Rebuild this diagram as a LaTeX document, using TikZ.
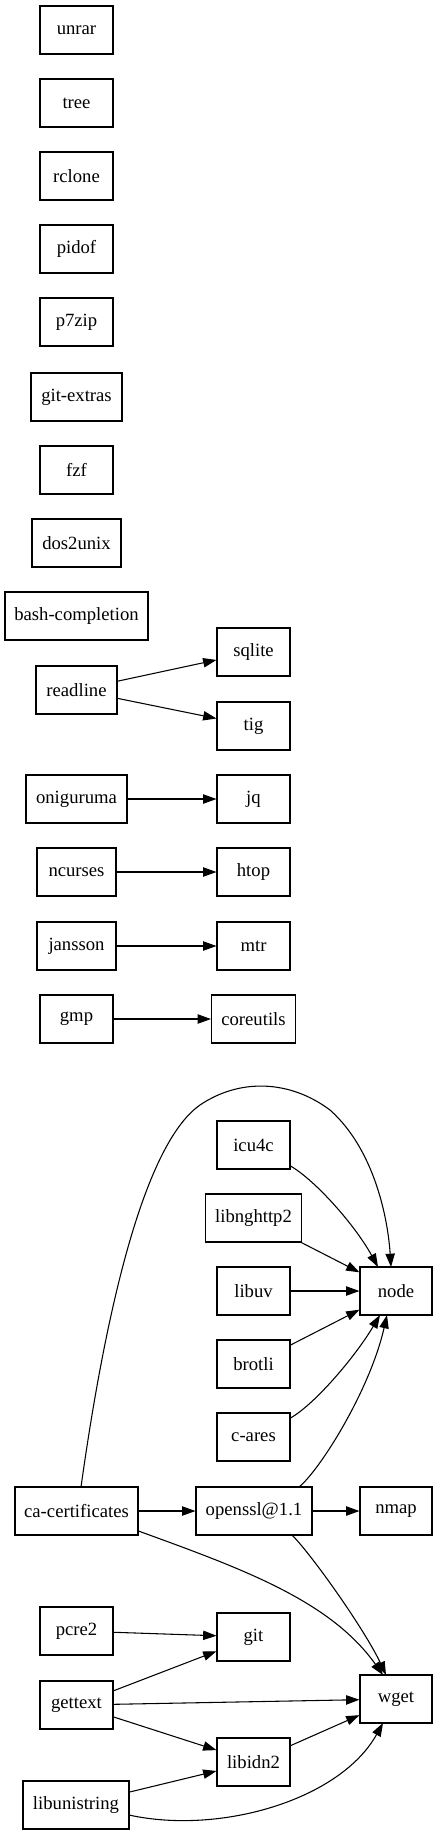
\documentclass[tikz,border=0pt]{standalone}
\usepackage{fontspec}
\setmainfont{Liberation Serif}
\usetikzlibrary{arrows.meta,calc}
\begin{document}
\begin{tikzpicture}[x=0.75pt,y=-0.75pt,
  box/.style={draw=black,line width=0.8pt,rectangle,minimum height=36pt,inner sep=0pt,font=\fontsize{14pt}{16pt}\selectfont},
  w/.style={minimum width=#1*0.75pt},
  edge/.style={draw=black,line width=0.8pt,-{Triangle[length=10pt,width=7pt]}}]
\useasboundingbox (0,0) rectangle (437,1835);
\node[box,w=73] (unrar) at (76.5,30) {unrar};
\node[box,w=73] (tree) at (76.5,103) {tree};
\node[box,w=73] (rclone) at (76.5,176) {rclone};
\node[box,w=73] (pidof) at (76.5,249) {pidof};
\node[box,w=73] (p7zip) at (76.5,322) {p7zip};
\node[box,w=91] (gitextras) at (76.5,397) {git-extras};
\node[box,w=73] (fzf) at (76.5,470) {fzf};
\node[box,w=89] (dos2unix) at (76.5,543) {dos2unix};
\node[box,w=143] (bashcompletion) at (76.5,616) {bash-completion};
\node[box,w=81] (readline) at (76.5,690) {readline};
\node[box,w=73] (sqlite) at (253.5,652) {sqlite};
\node[box,w=73] (tig) at (253.5,726) {tig};
\node[box,w=101] (oniguruma) at (76.5,799) {oniguruma};
\node[box,w=73] (jq) at (253.5,799) {jq};
\node[box,w=79] (ncurses) at (76.5,872) {ncurses};
\node[box,w=73] (htop) at (253.5,872) {htop};
\node[box,w=79] (jansson) at (76.5,946) {jansson};
\node[box,w=73] (mtr) at (253.5,946) {mtr};
\node[box,w=73] (gmp) at (76.5,1019) {gmp};
\node[box,w=84] (coreutils) at (253.5,1019) {coreutils};
\node[box,w=73] (icu4c) at (253.5,1145) {icu4c};
\node[box,w=96] (libnghttp2) at (253.5,1218) {libnghttp2};
\node[box,w=73] (libuv) at (253.5,1291) {libuv};
\node[box,w=72] (node) at (396,1291) {node};
\node[box,w=73] (brotli) at (253.5,1364) {brotli};
\node[box,w=73] (cares) at (253.5,1437) {c-ares};
\node[box,w=123] (cacert) at (76.5,1511) {ca-certificates};
\node[box,w=116] (openssl) at (254,1511) {openssl@1.1};
\node[box,w=72] (nmap) at (396,1511) {nmap};
\node[box,w=73] (pcre2) at (76.5,1631) {pcre2};
\node[box,w=73] (git) at (253.5,1637) {git};
\node[box,w=73] (gettext) at (76.5,1705) {gettext};
\node[box,w=72] (wget) at (396,1699) {wget};
\node[box,w=73] (libidn2) at (253.5,1762) {libidn2};
\node[box,w=106] (libunistring) at (76,1805) {libunistring};
% straight edges
\draw[edge] (readline) -- (sqlite);
\draw[edge] (readline) -- (tig);
\draw[edge] (oniguruma) -- (jq);
\draw[edge] (ncurses) -- (htop);
\draw[edge] (jansson) -- (mtr);
\draw[edge] (gmp) -- (coreutils);
\draw[edge] (libnghttp2) -- (node);
\draw[edge] (libuv) -- (node);
\draw[edge] (brotli) -- (node);
\draw[edge] (cacert) -- (openssl);
\draw[edge] (openssl) -- (nmap);
\draw[edge] (pcre2) -- (git);
\draw[edge] (gettext) -- (git);
\draw[edge] (gettext) -- (wget);
\draw[edge] (gettext) -- (libidn2);
\draw[edge] (libidn2) -- (wget);
\draw[edge] (libunistring) -- (libidn2);
% curved edges
\draw[edge] ($(icu4c)+(37,21)$) .. controls +(24.5,14) and +(-23,-42) .. ($(node)+(-18,-24)$);
\draw[edge] ($(cares)+(37,-19)$) .. controls +(24.5,-14) and +(-25,42) .. ($(node)+(-16,24)$);
\draw[edge] ($(openssl)+(45,-24)$) .. controls +(21,-17) and +(-17,75) .. ($(node)+(-9,24)$);
\draw[edge] ($(cacert)+(4.5,-24)$) .. controls (110,1280) and (150,1140) .. (200,1105)
  .. controls (240,1078) and (290,1080) .. (330,1110)
  .. controls (375,1150) and (388,1220) .. ($(node)+(-5,-24)$);
\draw[edge] ($(cacert)+(62,20)$) .. controls +(101.5,37) and +(-53,-75) .. ($(wget)+(-13,-24)$);
\draw[edge] ($(openssl)+(38,24)$) .. controls +(20,20) and +(-21,-45) .. ($(wget)+(-10,-24)$);
\draw[edge] ($(libunistring)+(53,10)$) .. controls +(91,20) and +(-43,77) .. ($(wget)+(-13,24)$);
\end{tikzpicture}
\end{document}
